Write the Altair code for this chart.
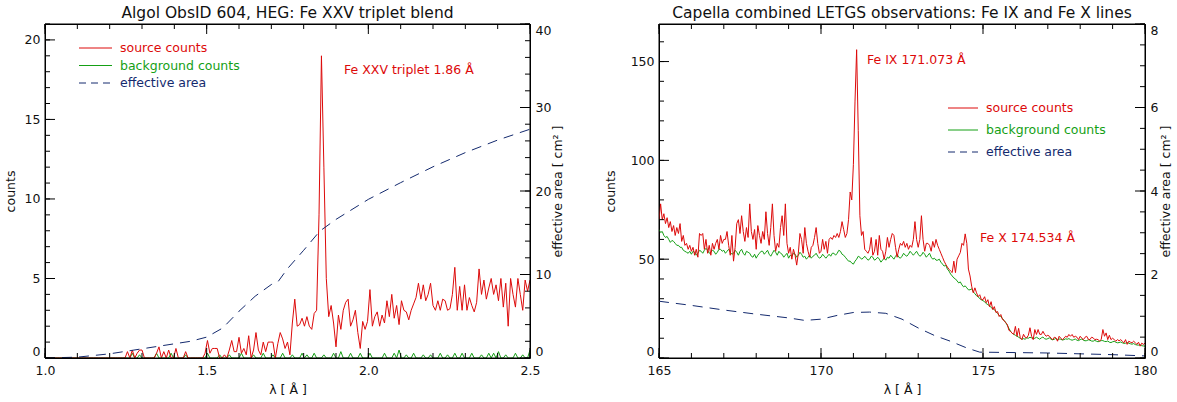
import altair as alt
import pandas as pd

# ---------------- Left panel: Algol ObsID 604, HEG ----------------
L_LAM0 = 1.0
L_STEP = 0.0075
L_SRC = [
    0, 0, 0, 0, 0, 0, 0, 0, 0, 0, 0, 0, 0, 0, 0, 0, 0, 0, 0, 0,
    0, 0, 0, 0, 0, 0, 0, 0, 0, 0, 0, 0, 0, 0, 0.4, 0, 0.5, 0, 0.3, 0.5,
    0.5, 0, 0, 0, 0, 0, 0.3, 0.7, 0, 0.4, 0, 0.5, 0, 0, 0.6, 0, 0, 0, 0.4, 0,
    0, 0, 0, 0, 0, 0, 0.3, 1.1, 0.3, 0.6, 0.6, 0.6, 0, 0, 0.2, 0, 0.5, 1.1, 0.4, 0.4,
    1.3, 0.3, 0.6, 0.2, 1.4, 0, 0.5, 1.6, 0.5, 0.2, 1.0, 0.4, 1.0, 1.0, 1.0, 0, 0.9, 1.6, 1.2, 0.6,
    1.0, 0.2, 2.2, 3.7, 2.0, 2.1, 2.5, 2.0, 2.6, 2.0, 1.8, 2.8, 3.0, 9.0, 19.0, 12.0, 5.0, 2.6, 3.3, 2.2,
    0.7, 2.7, 1.8, 3.0, 3.5, 3.7, 2.0, 2.4, 3.0, 1.6, 0.6, 2.3, 1.8, 2.3, 4.3, 2.0, 2.6, 2.9, 2.0, 2.7,
    2.2, 3.6, 2.6, 4.0, 2.5, 3.3, 2.1, 3.6, 3.0, 2.9, 2.4, 3.0, 3.4, 3.8, 4.7, 3.7, 4.6, 3.6, 4.0, 4.7,
    3.3, 3.0, 3.6, 3.0, 3.7, 3.6, 3.0, 3.1, 4.0, 5.7, 3.0, 4.5, 3.0, 4.6, 3.0, 3.8, 3.3, 2.9, 3.5, 5.6,
    4.0, 4.9, 3.7, 4.4, 5.0, 4.0, 4.6, 3.6, 5.0, 3.2, 4.7, 2.0, 5.0, 4.0, 3.2, 5.0, 4.0, 3.0, 4.9, 4.2,
    4.9,
]
L_BG = [
    0, 0, 0, 0, 0, 0, 0, 0, 0, 0, 0, 0, 0, 0, 0, 0, 0, 0, 0, 0,
    0, 0, 0, 0, 0, 0, 0, 0, 0, 0, 0, 0, 0, 0, 0, 0, 0.3, 0, 0, 0.2,
    0, 0, 0, 0, 0, 0, 0.3, 0, 0, 0, 0, 0, 0.3, 0, 0, 0, 0, 0, 0.2, 0,
    0, 0, 0, 0, 0, 0, 0, 0.3, 0, 0, 0, 0, 0.2, 0, 0, 0, 0.2, 0, 0, 0,
    0, 0.3, 0, 0, 0, 0, 0.2, 0, 0, 0, 0.3, 0, 0, 0, 0.2, 0, 0, 0, 0.3, 0,
    0, 0, 0.2, 0, 0, 0, 0.3, 0, 0.2, 0, 0, 0.3, 0, 0, 0, 0.2, 0, 0, 0, 0.3,
    0, 0, 0.4, 0, 0, 0, 0.3, 0, 0, 0, 0.3, 0, 0, 0, 0.3, 0, 0, 0, 0, 0,
    0.3, 0, 0, 0, 0.3, 0, 0.5, 0, 0, 0.2, 0, 0, 0.3, 0, 0, 0, 0.2, 0, 0, 0.2,
    0, 0, 0, 0.3, 0, 0, 0.2, 0, 0, 0.3, 0, 0, 0.3, 0, 0, 0, 0.3, 0, 0, 0,
    0.2, 0, 0, 0.3, 0, 0.3, 0, 0.4, 0, 0, 0.2, 0, 0, 0, 0.3, 0, 0, 0.2, 0, 0,
    0.5,
]
L_AREA_LAM = [1.0, 1.1, 1.2, 1.25, 1.3, 1.35, 1.4, 1.45, 1.5, 1.55, 1.6, 1.65, 1.7, 1.72,
              1.75, 1.8, 1.85, 1.9, 2.0, 2.1, 2.2, 2.3, 2.4, 2.5]
L_AREA = [0.0, 0.1, 0.5, 0.8, 1.1, 1.4, 1.7, 2.0, 2.5, 3.6, 5.6, 7.4, 8.8, 9.1,
          10.7, 12.9, 15.2, 16.6, 19.0, 21.0, 22.9, 24.6, 26.1, 27.4]
L_X_MINOR = [1.0, 1.1, 1.2, 1.3, 1.4, 1.5, 1.6, 1.7, 1.8, 1.9, 2.0, 2.1, 2.2, 2.3, 2.4, 2.5]
L_X_MAJOR = [1.0, 1.5, 2.0, 2.5]
L_Y_MINOR = list(range(0, 22))
L_Y_MAJOR = [0, 5, 10, 15, 20]
L_A_MINOR = list(range(0, 41, 2))
L_A_MAJOR = [0, 10, 20, 30, 40]
L_ANNOT = ["Fe XXV triplet 1.86 Å"]
L_ANNOT_LAM = [1.925]
L_ANNOT_Y = [18.1]

# ---------------- Right panel: Capella LETGS ----------------
R_LAM0 = 165.0
R_STEP = 0.05
R_SRC = [
    70, 78, 70, 73, 68, 71, 66, 69, 64, 67, 62, 66, 63, 68, 59, 62, 57, 58, 55, 57,
    54, 56, 52, 55, 51, 63, 62, 63, 55, 60, 53, 57, 52, 58, 55, 58, 60, 55, 62, 58,
    60, 60, 64, 57, 52, 62, 49, 56, 68, 70, 63, 72, 64, 59, 66, 61, 78, 64, 60, 65,
    55, 67, 62, 58, 64, 60, 74, 63, 57, 66, 78, 62, 54, 58, 56, 66, 72, 62, 78, 58,
    53, 56, 50, 55, 52, 47, 53, 63, 60, 53, 66, 58, 54, 51, 56, 57, 61, 66, 58, 53,
    54, 60, 55, 59, 53, 60, 61, 60, 62, 61, 63, 61, 64, 69, 65, 61, 63, 70, 84, 80,
    98, 130, 156, 115, 72, 62, 64, 55, 54, 53, 55, 61, 52, 54, 60, 52, 62, 55, 54, 50,
    54, 61, 56, 60, 63, 62, 56, 51, 55, 58, 57, 59, 56, 58, 55, 57, 56, 60, 69, 60,
    56, 60, 72, 60, 54, 58, 58, 57, 54, 59, 56, 60, 57, 55, 53, 51, 49, 47.4, 46, 44.9,
    44, 43.2, 49, 43.2, 50, 51.7, 53.4, 58, 57, 62.8, 58, 45, 41.5, 36.3, 33, 35.5, 33, 31, 32, 29.5,
    29.5, 31, 28, 29.5, 26, 28.5, 24.5, 26, 23, 23.5, 21, 22, 19.5, 19, 17.8, 17, 14, 13.5, 12.5, 12,
    16, 11, 15, 10.2, 9.3, 12, 10.5, 10.2, 11.5, 15.3, 11, 9.3, 14.4, 11.9, 14.4, 12, 11.9, 13.5, 12, 11,
    11.5, 11, 10, 9.3, 10.5, 10.2, 8.5, 11, 10, 9.3, 10, 11, 10.5, 11.9, 11, 11.9, 10.5, 11, 10.5, 9.3,
    11, 10, 9.3, 10.5, 11, 9.5, 9.3, 10.5, 10.2, 9.3, 9.5, 9.3, 8.5, 9.5, 14.4, 11, 12.7, 9.3, 11.5, 9.3,
    10, 9.3, 8.5, 9.3, 8.7, 9.3, 8.5, 7.7, 9.3, 6.9, 8.5, 8, 7.7, 8.5, 7.7, 6.9, 8, 6, 7.5, 6.9,
    7.5,
]
R_BG_STEP = 0.05
R_BG = [
    65, 63.5, 64, 62, 61, 61.5, 60, 58.5, 59.5, 59, 58, 57, 57, 56, 56, 54.5, 54, 53.5, 53, 54,
    52.5, 54, 53.5, 52, 53, 54.5, 54, 53, 54.5, 55.5, 54.5, 53, 53.5, 54.5, 54, 52.5, 53.5, 55, 55, 54,
    54.5, 53, 54, 55, 53.5, 52.5, 53, 54.5, 53.5, 52, 54, 55, 53, 52, 54, 53.5, 53, 51.5, 51, 52.5,
    50.5, 52, 53, 54, 54, 52.5, 53.5, 54.5, 52.5, 51.5, 53, 54.5, 53.5, 52, 54, 53, 52.5, 51, 52, 53,
    50.5, 52, 51.5, 53, 52.5, 51, 52, 53.5, 52.5, 51, 51.5, 50, 51, 52, 50.5, 51.5, 52, 53, 51.5, 50.5,
    51, 52.5, 51.5, 50.5, 51.5, 52.5, 51.5, 53, 53, 52, 53, 54.5, 54, 52.5, 52, 51, 50, 49, 49, 48,
    47.5, 49, 50, 51.5, 51, 50, 50.5, 51.5, 50.5, 49.5, 50, 51.5, 51, 49.5, 50, 51, 50, 48.5, 49.5, 50.5,
    49.5, 51, 50.5, 52, 51, 50, 51.5, 52.5, 51, 50.5, 51.5, 53, 52, 51.5, 52.5, 54, 53, 52, 53, 54,
    52.5, 51.5, 52, 53.5, 52.5, 51, 52, 53, 51, 50, 50.5, 49.5, 49.5, 50, 48.5, 47.5, 46.5, 47, 45, 44,
    42.5, 41.5, 40.5, 40, 39, 38, 38.5, 37, 36, 36.5, 35.5, 34.5, 34.5, 35, 33.5, 32.5, 31.5, 31, 30, 29.5,
    29, 28.5, 27.5, 27, 26.5, 25.5, 25, 24.5, 23.5, 22.5, 21.5, 21, 20, 19, 18, 16.5, 15, 13.5, 12.5, 12,
    11.5, 11, 10.5, 10, 9.5, 9.8, 9.5, 10.2, 10, 10.5, 10.2, 9.8, 10, 10.5, 10, 9.5, 10.2, 10.6, 9.8, 9.5,
    9.8, 10.2, 9.5, 9.2, 9.5, 9.9, 9.3, 9.6, 9.5, 9.1, 9.3, 9.7, 9.5, 9.8, 9.3, 9.0, 9.3, 9.6, 9, 8.8,
    9.3, 9.6, 9, 8.7, 8.8, 9.2, 9, 8.6, 8.5, 8.9, 8.5, 8.2, 8.5, 8.8, 8.8, 8.4, 8.3, 8.6, 8, 7.8,
    8.2, 8.4, 8, 7.7, 7.8, 8.1, 7.7, 7.4, 7.5, 7.8, 7.5, 7.2, 7, 7.3, 6.8, 6.6, 6.5, 6.7, 6.2, 6.1,
    6.0,
]
R_AREA_LAM = [165, 166, 167, 168, 169, 169.5, 170, 170.5, 171, 171.5, 172, 172.5, 173,
              173.5, 174, 174.5, 174.9, 176, 177, 178, 179, 180]
R_AREA = [1.36, 1.26, 1.15, 1.05, 0.96, 0.9, 0.93, 1.02, 1.09, 1.1, 1.07, 0.93, 0.72,
          0.54, 0.4, 0.24, 0.14, 0.13, 0.12, 0.1, 0.08, 0.05]
R_X_MINOR = list(range(165, 181))
R_X_MAJOR = [165, 170, 175, 180]
R_Y_MINOR = list(range(0, 170, 10))
R_Y_MAJOR = [0, 50, 100, 150]
R_A_MINOR = [0, 0.5, 1, 1.5, 2, 2.5, 3, 3.5, 4, 4.5, 5, 5.5, 6, 6.5, 7, 7.5, 8]
R_A_MAJOR = [0, 2, 4, 6, 8]
R_ANNOT = ["Fe IX 171.073 Å", "Fe X 174.534 Å"]
R_ANNOT_LAM = [171.42, 174.91]
R_ANNOT_Y = [150.8, 60.9]

LEGEND_LABELS = ["source counts", "background counts", "effective area"]

# ---------------- style ----------------
FONT = "DejaVu Sans"
FS = 12.5
RED = "#dd0a0a"
GREEN = "#15a015"
NAVY = "#142a6e"
INK = "#111111"
TICK = "#000000"
LEGEND_COLORS = [RED, GREEN, NAVY]
LEGEND_DASH = [None, None, [7, 5]]
MAJOR_LEN = 10
MINOR_LEN = 5


def grid(lam0, step, n):
    return [round(lam0 + i * step, 4) for i in range(n)]


def label_axis(orient, values, fmt, title, label_pad, title_pad, flush=False,
               title_angle=None, title_baseline=None):
    kw = dict(
        orient=orient, values=values, format=fmt, grid=False, domain=False, ticks=False,
        labelFont=FONT, labelFontSize=FS, labelColor=INK, labelPadding=label_pad,
        labelFlush=flush, labelOverlap=False,
        title=title, titleFont=FONT, titleFontSize=FS, titleFontWeight="normal",
        titleColor=INK, titlePadding=title_pad,
    )
    if title_angle is not None:
        kw["titleAngle"] = title_angle
    if title_baseline is not None:
        kw["titleBaseline"] = title_baseline
    return alt.Axis(**kw)


def tick_layer(values, scale, side, length, width, height):
    df = pd.DataFrame({"v": values})
    if side in ("bottom", "top"):
        yc = height - length / 2 if side == "bottom" else length / 2
        return alt.Chart(df).mark_tick(
            color=TICK, thickness=1, size=length, orient="vertical", opacity=1
        ).encode(x=alt.X("v:Q", scale=scale, axis=None), y=alt.value(yc))
    xc = length / 2 if side == "left" else width - length / 2
    return alt.Chart(df).mark_tick(
        color=TICK, thickness=1, size=length, orient="horizontal", opacity=1
    ).encode(y=alt.Y("v:Q", scale=scale, axis=None), x=alt.value(xc))


def frame_layers(width, height):
    one = pd.DataFrame({"k": [0]})
    segs = [
        (0, width, 0, None), (0, width, height, None),
        (0, None, 0, height), (width, None, 0, height),
    ]
    out = []
    for x0, x1, y0, y1 in segs:
        enc = dict(x=alt.value(x0), y=alt.value(y0))
        if x1 is not None:
            enc["x2"] = alt.value(x1)
        if y1 is not None:
            enc["y2"] = alt.value(y1)
        out.append(alt.Chart(one).mark_rule(color=TICK, strokeWidth=1).encode(**enc))
    return out


def make_panel(title, lam0, step, src, bg_step, bg, area_lam, area, x_dom, x_minor, x_major, x_fmt,
               y_dom, y_minor, y_major, a_dom, a_minor, a_major, annots, annot_lam, annot_y,
               counts_title_pad, area_title_pad, leg_x0, leg_y0, leg_dy, leg_len, width, height):
    src_df = pd.DataFrame({"lam": grid(lam0, step, len(src)), "counts": src})
    bg_df = pd.DataFrame({"lam": grid(lam0, bg_step, len(bg)), "counts": bg})
    area_df = pd.DataFrame({"lam": area_lam, "area": area})
    ann_df = pd.DataFrame({"lam": annot_lam, "counts": annot_y, "label": annots})

    xs = alt.Scale(domain=x_dom, nice=False, zero=False)
    ys = alt.Scale(domain=y_dom, nice=False, zero=False)
    as_ = alt.Scale(domain=a_dom, nice=False, zero=False)

    bg_line = alt.Chart(bg_df).mark_line(color=GREEN, strokeWidth=1, clip=True).encode(
        x=alt.X("lam:Q", scale=xs, axis=None),
        y=alt.Y("counts:Q", scale=ys, axis=None),
    )
    src_line = alt.Chart(src_df).mark_line(color=RED, strokeWidth=1, clip=True).encode(
        x=alt.X("lam:Q", scale=xs,
                axis=label_axis("bottom", x_major, x_fmt, "λ [ Å ]", label_pad=6, title_pad=7)),
        y=alt.Y("counts:Q", scale=ys,
                axis=label_axis("left", y_major, "d", "counts", label_pad=5,
                                title_pad=counts_title_pad, flush=True)),
    )
    ann = alt.Chart(ann_df).mark_text(
        align="left", baseline="middle", font=FONT, fontSize=FS, color=RED
    ).encode(
        x=alt.X("lam:Q", scale=xs, axis=None),
        y=alt.Y("counts:Q", scale=ys, axis=None),
        text="label:N",
    )
    area_line = alt.Chart(area_df).mark_line(color=NAVY, strokeWidth=1, strokeDash=[10, 7]).encode(
        x=alt.X("lam:Q", scale=xs, axis=None),
        y=alt.Y("area:Q", scale=as_,
                axis=label_axis("right", a_major, "d", "effective area [ cm² ]", label_pad=5,
                                title_pad=area_title_pad, flush=True,
                                title_angle=270, title_baseline="top")),
    )

    ticks = []
    for side, sc in [("bottom", xs), ("top", xs), ("left", ys), ("right", as_)]:
        if side in ("bottom", "top"):
            mj, mn = x_major, x_minor
        elif side == "left":
            mj, mn = y_major, y_minor
        else:
            mj, mn = a_major, a_minor
        ticks.append(tick_layer(mn, sc, side, MINOR_LEN, width, height))
        ticks.append(tick_layer(mj, sc, side, MAJOR_LEN, width, height))

    one = pd.DataFrame({"k": [0]})
    legend = []
    for i, (lab, col, dash) in enumerate(zip(LEGEND_LABELS, LEGEND_COLORS, LEGEND_DASH)):
        yy = leg_y0 + i * leg_dy
        rule_kw = dict(color=col, strokeWidth=1)
        if dash is not None:
            rule_kw["strokeDash"] = dash
        legend.append(
            alt.Chart(one).mark_rule(**rule_kw).encode(
                x=alt.value(leg_x0), x2=alt.value(leg_x0 + leg_len), y=alt.value(yy)
            )
        )
        legend.append(
            alt.Chart(one).mark_text(
                align="left", baseline="middle", font=FONT, fontSize=FS, color=col
            ).encode(x=alt.value(leg_x0 + leg_len + 8), y=alt.value(yy), text=alt.value(lab))
        )

    return (
        alt.layer(bg_line, src_line, ann, area_line, *ticks, *frame_layers(width, height), *legend)
        .resolve_scale(x="independent", y="independent")
        .properties(
            width=width,
            height=height,
            title=alt.TitleParams(
                text=title, font=FONT, fontSize=15.5, fontWeight="normal", color=INK,
                anchor="middle", offset=2,
            ),
        )
    )


left = make_panel(
    "Algol ObsID 604, HEG: Fe XXV triplet blend",
    L_LAM0, L_STEP, L_SRC, L_STEP, L_BG, L_AREA_LAM, L_AREA,
    [1.0, 2.5], L_X_MINOR, L_X_MAJOR, ".1f",
    [0, 21], L_Y_MINOR, L_Y_MAJOR, [0, 40], L_A_MINOR, L_A_MAJOR,
    L_ANNOT, L_ANNOT_LAM, L_ANNOT_Y,
    counts_title_pad=7, area_title_pad=1,
    leg_x0=34, leg_y0=24, leg_dy=17.5, leg_len=33, width=485, height=334,
)
right = make_panel(
    "Capella combined LETGS observations: Fe IX and Fe X lines",
    R_LAM0, R_STEP, R_SRC, R_BG_STEP, R_BG, R_AREA_LAM, R_AREA,
    [165, 180], R_X_MINOR, R_X_MAJOR, "d",
    [0, 169], R_Y_MINOR, R_Y_MAJOR, [0, 8], R_A_MINOR, R_A_MAJOR,
    R_ANNOT, R_ANNOT_LAM, R_ANNOT_Y,
    counts_title_pad=13, area_title_pad=2,
    leg_x0=289, leg_y0=84, leg_dy=22, leg_len=30, width=486, height=334,
)

chart = (
    alt.hconcat(left, right, spacing=38)
    .properties(padding={"left": 3, "top": 5, "right": 2, "bottom": 2}, background="white")
    .configure_view(stroke="#000000", strokeWidth=1)
)

chart.save("out.html", embed_options={"renderer": "svg", "actions": False})
